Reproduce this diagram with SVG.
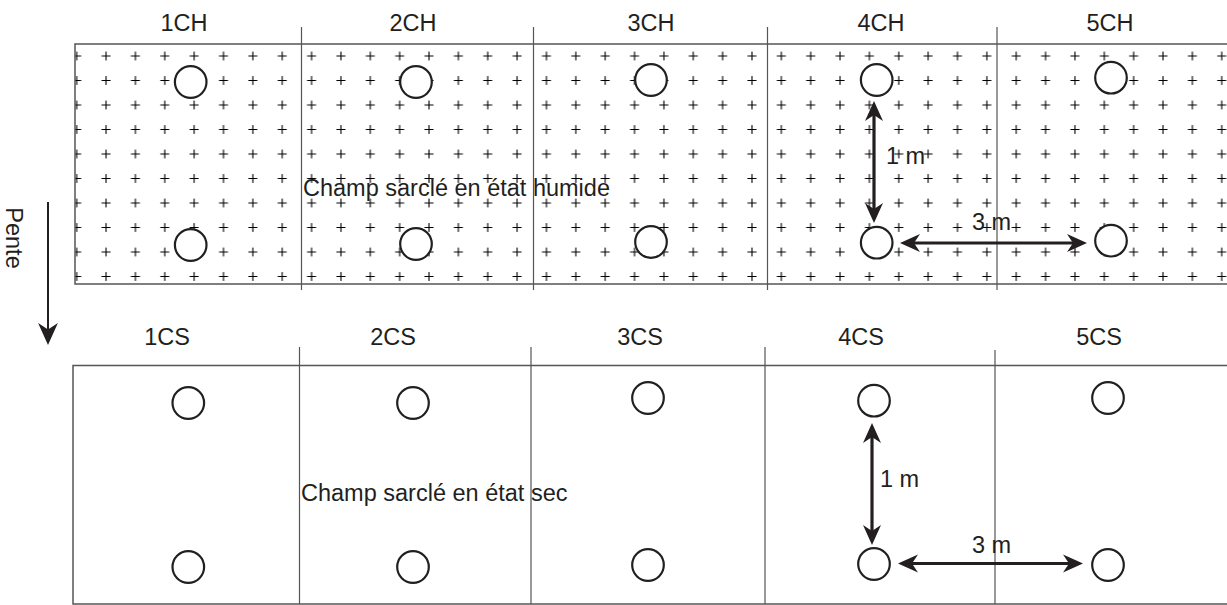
<svg xmlns="http://www.w3.org/2000/svg" width="1227" height="605" viewBox="0 0 1227 605">
<style>
text{font-family:"Liberation Sans",Arial,sans-serif;font-size:23.5px;fill:#231f20}
.lbl{text-anchor:middle}
.frame{fill:none;stroke:#555;stroke-width:1.5}
.div{stroke:#555;stroke-width:1.2}
.hole{fill:#fff;stroke:#231f20;stroke-width:2.2}
.dim{stroke:#231f20;stroke-width:3.2;fill:none}
</style>
<defs>
<pattern id="plus" patternUnits="userSpaceOnUse" x="62.02" y="43.75" width="29.36" height="24.5">
<path d="M10.18,12.25H19.18M14.68,7.75V16.75" stroke="#000" stroke-width="1.1"/>
</pattern>
<marker id="ah" viewBox="0 0 20 20" markerWidth="20" markerHeight="20" refX="10" refY="10" orient="auto-start-reverse" markerUnits="userSpaceOnUse">
<path d="M0,1L20,10L0,19L6,10z" fill="#231f20"/>
</marker>
<marker id="ahp" viewBox="0 0 20 20" markerWidth="22" markerHeight="22" refX="10" refY="10" orient="auto" markerUnits="userSpaceOnUse">
<path d="M0,1L20,10L0,19L6,10z" fill="#231f20"/>
</marker>
</defs>

<g id="field-humide">
<rect x="75" y="44" width="1160" height="240" fill="url(#plus)"/>
<path class="frame" d="M1227,44H75V284H1227"/>
<line class="div" x1="301.5" y1="27" x2="301.5" y2="290"/>
<line class="div" x1="533.5" y1="27" x2="533.5" y2="290"/>
<line class="div" x1="767.5" y1="27" x2="767.5" y2="290"/>
<line class="div" x1="997" y1="27" x2="997" y2="290"/>
<text x="303" y="196">Champ sarclé en état humide</text>
</g>

<g id="field-sec">
<path class="frame" d="M1227,365.5H73V604H1227"/>
<line class="div" x1="299.5" y1="347" x2="299.5" y2="604"/>
<line class="div" x1="531" y1="347" x2="531" y2="604"/>
<line class="div" x1="765" y1="347" x2="765" y2="604"/>
<line class="div" x1="995" y1="350" x2="995" y2="604"/>
<text x="301" y="501">Champ sarclé en état sec</text>
</g>

<g id="plot-1CH"><text class="lbl" x="184" y="31">1CH</text><circle class="hole" cx="190.7" cy="82" r="15.8"/><circle class="hole" cx="190.7" cy="245" r="15.8"/></g>
<g id="plot-2CH"><text class="lbl" x="413" y="31">2CH</text><circle class="hole" cx="416" cy="82" r="15.8"/><circle class="hole" cx="416" cy="244" r="15.8"/></g>
<g id="plot-3CH"><text class="lbl" x="651" y="31">3CH</text><circle class="hole" cx="651" cy="80" r="15.8"/><circle class="hole" cx="651" cy="242" r="15.8"/></g>
<g id="plot-4CH"><text class="lbl" x="881" y="31">4CH</text><circle class="hole" cx="876.7" cy="80" r="15.8"/><circle class="hole" cx="876.7" cy="242.7" r="15.8"/></g>
<g id="plot-5CH"><text class="lbl" x="1110" y="31">5CH</text><circle class="hole" cx="1111" cy="77.7" r="15.8"/><circle class="hole" cx="1111" cy="240.7" r="15.8"/></g>

<g id="plot-1CS"><text class="lbl" x="167" y="345">1CS</text><circle class="hole" cx="188.3" cy="403" r="15.8"/><circle class="hole" cx="188.3" cy="567" r="15.8"/></g>
<g id="plot-2CS"><text class="lbl" x="393" y="345">2CS</text><circle class="hole" cx="413" cy="403" r="15.8"/><circle class="hole" cx="413" cy="567" r="15.8"/></g>
<g id="plot-3CS"><text class="lbl" x="640" y="345">3CS</text><circle class="hole" cx="648" cy="398" r="15.8"/><circle class="hole" cx="648" cy="565" r="15.8"/></g>
<g id="plot-4CS"><text class="lbl" x="861" y="345">4CS</text><circle class="hole" cx="874" cy="400.7" r="15.8"/><circle class="hole" cx="874" cy="564" r="15.8"/></g>
<g id="plot-5CS"><text class="lbl" x="1099" y="345">5CS</text><circle class="hole" cx="1108" cy="398" r="15.8"/><circle class="hole" cx="1108" cy="565" r="15.8"/></g>

<g id="pente"><text class="lbl" transform="translate(6,238) rotate(90)">Pente</text></g>

<g id="connectors">
<line class="dim" x1="874" y1="111" x2="874" y2="213" marker-start="url(#ah)" marker-end="url(#ah)"/>
<line class="dim" x1="910" y1="243" x2="1077" y2="243" marker-start="url(#ah)" marker-end="url(#ah)"/>
<line class="dim" x1="872" y1="433" x2="872" y2="535" marker-start="url(#ah)" marker-end="url(#ah)"/>
<line class="dim" x1="908" y1="563.5" x2="1073" y2="563.5" marker-start="url(#ah)" marker-end="url(#ah)"/>
<line x1="48" y1="202" x2="48" y2="334" stroke="#231f20" stroke-width="2" marker-end="url(#ahp)"/>
<text x="886" y="164">1 m</text>
<text x="972" y="230">3 m</text>
<text x="880" y="487">1 m</text>
<text x="972" y="553">3 m</text>
</g>
</svg>
